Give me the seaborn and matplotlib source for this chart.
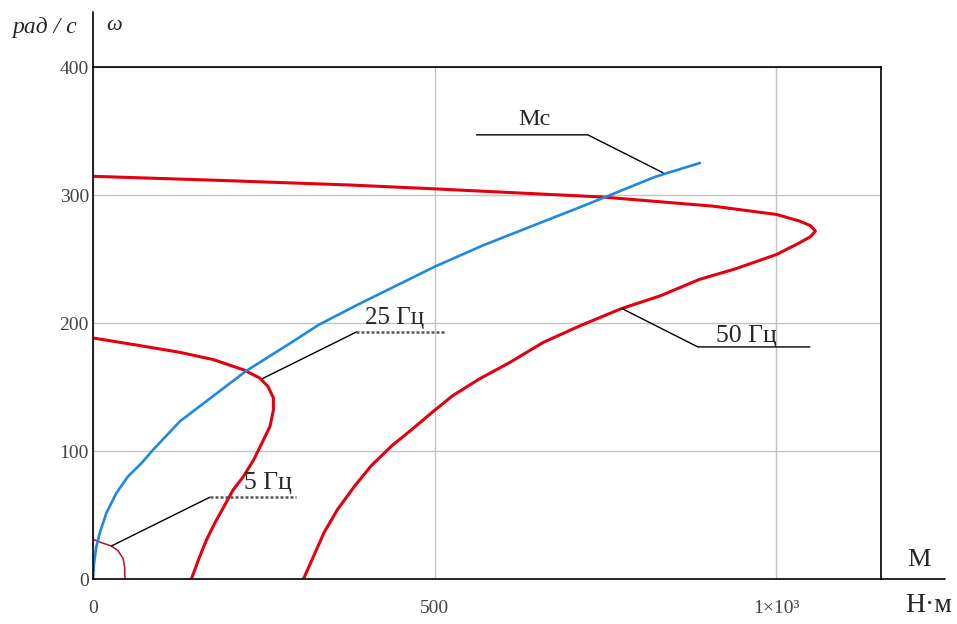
import matplotlib
matplotlib.use("Agg")
import matplotlib.pyplot as plt
import seaborn as sns
import pandas as pd

# механические характеристики
m50 = [0, 186, 376, 496, 746, 907, 1000, 1034, 1050, 1057, 1050, 1034, 1000, 940, 887, 831, 772, 713, 659,
       610, 565, 526, 496, 467, 437, 407, 383, 358, 338, 324, 308]
w50 = [314.6, 311.4, 307.8, 304.9, 298.4, 291.3, 284.8, 279.6, 276, 271.8, 267.5, 262.7, 253.5, 242.3, 234, 221.4, 211, 197.9, 184.9,
       169.2, 156.2, 143.1, 130.1, 117, 104, 88.4, 72.7, 54.5, 36.2, 19.3, 0]

m25 = [0, 61, 127, 176, 220, 244, 256, 264, 264, 259, 247, 235, 220, 205, 190, 178, 166, 155, 144]
w25 = [188.3, 183, 177.1, 171.4, 163.5, 157, 150.5, 141.4, 132.2, 119.2, 106, 93, 80, 69.6, 55, 43.5, 30.5, 16, 0]

m5 = [0, 12.2, 26.8, 36.5, 43.9, 46.3, 46.8]
w5 = [31, 28.4, 25.8, 22.2, 16.2, 9.6, 0]

mc_m = [0, 1.5, 4.9, 9.7, 19.5, 34, 51, 71, 88, 127, 224, 288, 330, 388, 500, 570, 634, 708, 750, 823, 888]
mc_w = [0, 12.3, 25.3, 35.7, 51.4, 67, 80, 90.5, 101, 123.1, 162.5, 184, 198.5, 214.5, 244, 260.5, 274, 289.5, 298.5, 314.3, 325]

x_ticks = [0, 500, 1000]
x_labels = ["0", "500", "1×10³"]
y_ticks = [0, 100, 200, 300, 400]

sns.set_style("white")
plt.rcParams['font.family'] = ['Liberation Serif', 'DejaVu Serif']

fig = plt.figure(figsize=(9.57, 6.24), dpi=100)
ax = fig.add_axes([93 / 957, 1 - 579 / 624, 788 / 957, 512 / 624])

red = "#e3000f"
blue = "#1f88e0"

def curve(mx, wy, color, lw):
    df = pd.DataFrame({"M": mx, "w": wy})
    sns.lineplot(data=df, x="M", y="w", sort=False, estimator=None,
                 color=color, linewidth=lw, ax=ax)

curve(m50, w50, red, 2.2)
curve(m25, w25, red, 2.2)
curve(m5, w5, "#b4132b", 1.1)
curve(mc_m, mc_w, blue, 1.9)

ax.set_xlim(0, 1153)
ax.set_ylim(0, 400)
ax.set_xticks(x_ticks)
ax.set_xticklabels(x_labels)
ax.set_yticks(y_ticks)
ax.set_xlabel("")
ax.set_ylabel("")
ax.grid(True, color="#c4c4c4", linewidth=1)
ax.tick_params(length=0, labelsize=14, labelcolor="#444444")
ax.tick_params(axis="x", pad=15)
ax.tick_params(axis="y", pad=3)
for s in ax.spines.values():
    s.set_color("black")
    s.set_linewidth(1.2)

# продлённые оси
ax.plot([0, 0], [1, 1.107], transform=ax.transAxes, color="black", lw=1.2, clip_on=False)
ax.plot([1, 1.081], [0, 0], transform=ax.transAxes, color="black", lw=1.2, clip_on=False)

fig.text(45 / 957, 1 - 27 / 624, "рад / с", fontsize=17, style="italic", ha="center", va="center")
fig.text(114 / 957, 1 - 26 / 624, "ω", fontsize=16, style="italic", ha="center", va="center")
fig.text(919 / 957, 1 - 560 / 624, "M", fontsize=19, ha="center", va="center")
fig.text(929 / 957, 1 - 605 / 624, "Н·м", fontsize=20, ha="center", va="center")

# выноски
ax.plot([561, 724, 834], [347, 347, 317.4], color="black", lw=1, clip_on=False)
ax.text(646, 359, "Mc", fontsize=17.5, ha="center", va="center")

ax.plot([775, 885, 1049], [211, 181.3, 181.3], color="black", lw=1, clip_on=False)
ax.text(956, 189.5, "50 Гц", fontsize=18.5, ha="center", va="center")

ax.plot([247, 385.5], [156.3, 193], color="black", lw=1)
ax.plot([385.5, 513], [193, 193], color="#555555", lw=1.8, ls=(0, (1.2, 0.8)))
ax.text(441.5, 204, "25 Гц", fontsize=18, ha="center", va="center")

ax.plot([27, 171], [25.8, 63.9], color="black", lw=1)
ax.plot([171, 296.4], [63.9, 63.9], color="#555555", lw=1.8, ls=(0, (1.2, 0.8)))
ax.text(256, 75, "5 Гц", fontsize=18.5, ha="center", va="center")

fig.savefig("out.png", dpi=100)
